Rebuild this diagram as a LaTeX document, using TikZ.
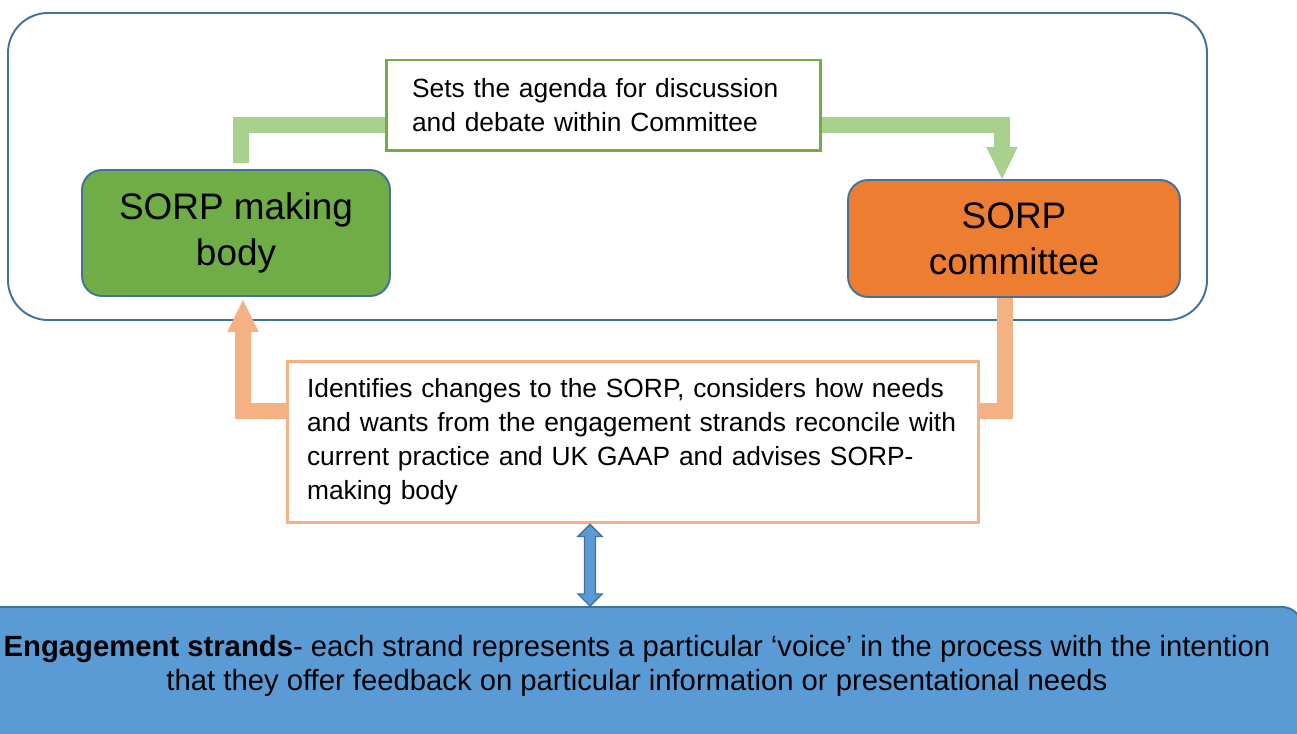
\documentclass[tikz,border=0pt]{standalone}
\usepackage{fontspec}
\setmainfont{Liberation Sans}
\usetikzlibrary{arrows.meta,calc,backgrounds}
\definecolor{frameblue}{HTML}{41719C}
\definecolor{bodygreen}{HTML}{70AD47}
\definecolor{lightgreen}{HTML}{A9D18E}
\definecolor{commorange}{HTML}{ED7D31}
\definecolor{lightorange}{HTML}{F4B183}
\definecolor{strandblue}{HTML}{5B9BD5}

\begin{document}
\begin{tikzpicture}[x=0.02cm,y=-0.02cm,
  bigbox/.style={draw=frameblue,line width=1.1pt,rounded corners=0.4cm,font=\fontsize{21}{26}\selectfont,align=center},
  notebox/.style={draw,fill=white,line width=1.7pt,font=\fontsize{15}{19.3}\selectfont,align=left},
  flow/.style={line width=0.32cm,line join=miter,-{Triangle[width=0.63cm,length=0.64cm,line width=0pt]}}]
\useasboundingbox (0,0) rectangle (1297,733);

\node[bigbox,fill=bodygreen,minimum width=6.16cm,minimum height=2.52cm] (MB) at (236,233) {SORP making\\body};
\node[bigbox,fill=commorange,minimum width=6.64cm,minimum height=2.34cm] (SC) at (1014,238.5) {SORP\\committee};

\node[notebox,draw=bodygreen,minimum width=8.7cm,minimum height=1.82cm,text width=7.66cm] (AG) at (603.5,105.5)
{Sets the agenda for discussion\\and debate within Committee};
\node[notebox,draw=lightorange,minimum width=13.84cm,minimum height=3.24cm,text width=13.04cm] (CH) at (633,442)
{Identifies changes to the SORP, considers how needs\\and wants from the engagement strands reconcile with\\current practice and UK GAAP and advises SORP-\\making body};

\node[draw=frameblue,fill=strandblue,line width=1.1pt,rounded corners=0.4cm,minimum width=26.48cm,minimum height=4cm,anchor=north] (ESB) at (640,606) {};
\node[font=\fontsize{16.65}{19.3}\selectfont,align=center] (EST) at (637,666)
{\textbf{Engagement strands}- each strand represents a particular ‘voice’ in the process with the intention\\that they offer feedback on particular information or presentational needs};

\coordinate (A) at ($(CH.south)+(-43,0)$);
\coordinate (B) at (A |- ESB.north);
\draw[frameblue,fill=strandblue,line width=0.8pt] (A) -- ++(12,12) -- ++(-6.5,0) -- ($(B)+(5.5,-12)$) -- ++(6.5,0)
  -- (B) -- ++(-12,-12) -- ++(6.5,0) -- ($(A)+(-5.5,12)$) -- ++(-6.5,0) -- cycle;

\begin{scope}[on background layer]
\draw[frameblue,line width=1.1pt,rounded corners=0.8cm] (8,13) rectangle (1207,320);
\draw[flow,lightgreen] ($(MB.north)+(5,-6)$) |- ($(SC.north)+(-12,-54)$) -- ($(SC.north)+(-12,0)$);
\draw[flow,lightorange] ($(SC.south)+(-9,0)$) -- ++(0,113) -| ($(MB.south)+(7,3)$);
\end{scope}
\end{tikzpicture}
\end{document}
